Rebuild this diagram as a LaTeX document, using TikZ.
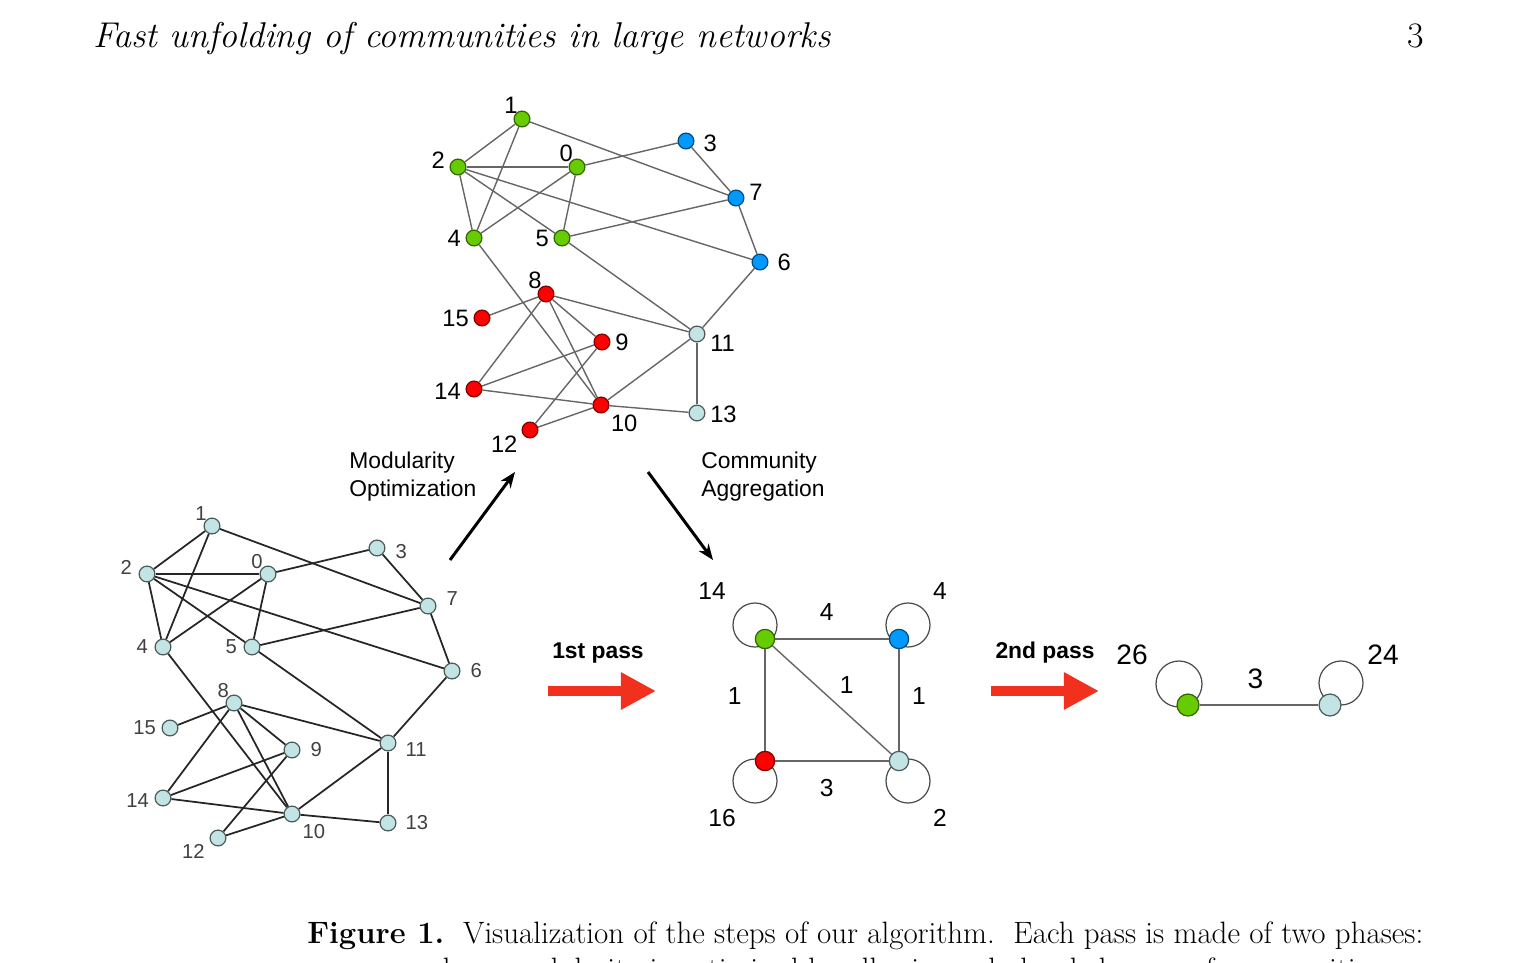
\documentclass[tikz,border=0pt]{standalone}
\usepackage{fontspec}
\newfontfamily\graphfont{Liberation Sans}
\usetikzlibrary{positioning, arrows.meta, backgrounds}

\definecolor{commgreen}{HTML}{66CC00}
\definecolor{commblue}{HTML}{0099FF}
\definecolor{commred}{HTML}{FF0000}
\definecolor{commcyan}{HTML}{C2E4E4}
\definecolor{passred}{HTML}{F2301E}

\begin{document}
\begin{tikzpicture}[
		x=0.02cm, y=-0.02cm,
		vertex/.style={circle, inner sep=0pt, minimum size=9pt, line width=0.7pt},
		grn/.style={vertex, fill=commgreen, draw=commgreen!50!black},
		blu/.style={vertex, fill=commblue, draw=commblue!50!black},
		rd/.style={vertex, fill=commred, draw=commred!50!black},
		cyn/.style={vertex, fill=commcyan, draw=commcyan!40!black},
		toplab/.style={font=\graphfont\fontsize{13.5}{13.5}\selectfont, inner sep=1pt},
		lowlab/.style={font=\graphfont\fontsize{11.5}{11.5}\selectfont, text=black!75, inner sep=1pt},
		snug/.style={label distance=-2.5pt},
		far/.style={label distance=4pt},
		weight/.style={font=\graphfont\fontsize{14}{14}\selectfont, inner sep=0pt},
		bigweight/.style={font=\graphfont\fontsize{16}{16}\selectfont, inner sep=0pt},
		phase/.style={font=\graphfont\fontsize{13}{16}\selectfont, align=left, anchor=west, inner sep=0pt},
		passlab/.style={font=\graphfont\bfseries\fontsize{13}{13}\selectfont},
		link/.style={draw=black!60, line width=0.8pt},
		lowlink/.style={draw=black!85, line width=1pt},
		loopline/.style={draw=black!70, line width=0.7pt},
		flowarrow/.style={-{Stealth[length=9pt, width=7pt]}, line width=1.7pt},
		passarrow/.style={-{Triangle[length=20pt, width=20pt]}, line width=6pt, passred}
		]
		\useasboundingbox (0,0) rectangle (1515,963);
		
		% --- page header and caption ---
		\node[anchor=base west, inner sep=0pt, font=\itshape\fontsize{20.4}{24}\selectfont] (header) at (93,48) {Fast unfolding of communities in large networks};
		\node[anchor=base east, inner sep=0pt, font=\fontsize{20.4}{24}\selectfont] (pageno) at (1424,48) {3};
		\node[anchor=base west, inner sep=0pt, font=\fontsize{17.6}{21}\selectfont] (cap1) at (307,943) {\textbf{Figure 1.}\ \ Visualization of the steps of our algorithm.\ \ Each pass is made of two phases:};
		\node[anchor=base west, inner sep=0pt, font=\fontsize{17.6}{21}\selectfont] (cap2) at (370,979) {one where modularity is optimized by allowing only local changes of communities;};
		
		% --- original network ---
		\begin{scope}[every label/.style={lowlab, label distance=2pt}, every node/.append style={minimum size=9.5pt}]
			\node[cyn, label={[snug]126:1}] (b1) at (212,526) {};
			\node[cyn, label={[yshift=3.5pt]180:2}] (b2) at (147,574) {};
			\node[cyn, label={[snug]122:0}] (b0) at (268,574) {};
			\node[cyn, label={[far, yshift=-2pt]0:3}] (b3) at (377,548) {};
			\node[cyn, label={[far, yshift=4pt]0:7}] (b7) at (428,606) {};
			\node[cyn, label=180:4] (b4) at (163,647) {};
			\node[cyn, label=180:5] (b5) at (252,647) {};
			\node[cyn, label={[far]0:6}] (b6) at (452,671) {};
			\node[cyn, label={[snug]120:8}] (b8) at (234,703) {};
			\node[cyn, label=180:15] (b15) at (170,728) {};
			\node[cyn, label={[far, yshift=-4pt]0:11}] (b11) at (388,743) {};
			\node[cyn, label={[far]0:9}] (b9) at (292,750) {};
			\node[cyn, label={[yshift=-1.5pt]180:14}] (b14) at (163,798) {};
			\node[cyn, label=-45:10] (b10) at (292,814) {};
			\node[cyn, label={[far]0:13}] (b13) at (388,823) {};
			\node[cyn, label=200:12] (b12) at (218,838) {};
		\end{scope}
		\foreach \a/\b in {1/2,1/4,1/7,2/0,2/4,2/5,2/6,0/4,0/5,0/3,3/7,7/5,7/6,6/11,4/10,5/11,8/15,8/11,8/14,8/9,8/10,9/14,9/12,14/10,10/12,10/11,10/13,11/13}
		\draw[lowlink] (b\a) -- (b\b);
		
		% --- after modularity optimization ---
		\begin{scope}[every label/.style={toplab, label distance=1.5pt}]
			\node[grn, label={[snug]124:1}] (t1) at (522,119) {};
			\node[grn, label={[yshift=4pt]180:2}] (t2) at (458,167) {};
			\node[grn, label={[snug]122:0}] (t0) at (577,167) {};
			\node[blu, label={[far, yshift=-1.5pt]0:3}] (t3) at (686,141) {};
			\node[blu, label={[yshift=3pt]0:7}] (t7) at (736,198) {};
			\node[grn, label=180:4] (t4) at (474,238) {};
			\node[grn, label=180:5] (t5) at (562,238) {};
			\node[blu, label={[far]0:6}] (t6) at (760,262) {};
			\node[rd, label={[snug]126:8}] (t8) at (546,294) {};
			\node[rd, label=180:15] (t15) at (482,318) {};
			\node[cyn, label={[yshift=-5.5pt]0:11}] (t11) at (697,334) {};
			\node[rd, label=0:9] (t9) at (602,342) {};
			\node[rd, label={[yshift=-1.5pt]180:14}] (t14) at (474,389) {};
			\node[rd, label=-45:10] (t10) at (601,405) {};
			\node[cyn, label={[yshift=-1pt]0:13}] (t13) at (697,413) {};
			\node[rd, label=200:12] (t12) at (530,430) {};
		\end{scope}
		\foreach \a/\b in {1/2,1/4,1/7,2/0,2/4,2/5,2/6,0/4,0/5,0/3,3/7,7/5,7/6,6/11,4/10,5/11,8/15,8/11,8/14,8/9,8/10,9/14,9/12,14/10,10/12,10/11,10/13,11/13}
		\draw[link] (t\a) -- (t\b);
		
		% phase arrows
		\coordinate (mo1) at (450,560);
		\coordinate (mo2) at (515,472);
		\coordinate (ca1) at (648,472);
		\coordinate (ca2) at (713,560);
		\draw[flowarrow] (mo1) -- (mo2);
		\draw[flowarrow] (ca1) -- (ca2);
		\node[phase] (modopt) at (349,477) {Modularity\\Optimization};
		\node[phase] (commagg) at (701,477) {Community\\Aggregation};
		
		% --- first pass result ---
		\node[grn, minimum size=11pt] (mg) at (765,639) {};
		\node[blu, minimum size=11pt] (mb) at (899,639) {};
		\node[rd, minimum size=11pt] (mr) at (765,761) {};
		\node[cyn, minimum size=11pt] (mc) at (899,761) {};
		\draw[link] (mg) -- node[weight, above=10pt, xshift=-3pt] {4} (mb);
		\draw[link] (mg) -- node[weight, left=13pt, yshift=2pt] {1} (mr);
		\draw[link] (mb) -- node[weight, right=7pt, yshift=2pt] {1} (mc);
		\draw[link] (mg) -- node[weight, above right=3pt, xshift=2pt, yshift=1pt] {1} (mc);
		\draw[link] (mr) -- node[weight, below=10pt, xshift=-3pt] {3} (mc);
		\begin{scope}[on background layer]
			\draw[loopline] ([shift={(-10,-14)}]mg.center) circle[radius=22];
			\draw[loopline] ([shift={(9,-14)}]mb.center) circle[radius=22];
			\draw[loopline] ([shift={(-10,20)}]mr.center) circle[radius=22];
			\draw[loopline] ([shift={(9,20)}]mc.center) circle[radius=22];
		\end{scope}
		\node[weight] (w14) at (712,591) {14};
		\node[weight] (w4) at (940,591) {4};
		\node[weight] (w16) at (722,818) {16};
		\node[weight] (w2) at (940,818) {2};
		
		\coordinate (p1s) at (548,691);
		\coordinate (p1e) at (656,691);
		\draw[passarrow] (p1s) -- (p1e);
		\node[passlab] (pass1) at (598,653) {1st pass};
		
		% --- second pass result ---
		\node[grn, minimum size=12.5pt] (rg) at (1188,705) {};
		\node[cyn, minimum size=12.5pt] (rc) at (1330,705) {};
		\draw[link] (rg) -- node[bigweight, above=9pt, xshift=-2pt] {3} (rc);
		\begin{scope}[on background layer]
			\draw[loopline] ([shift={(-9,-21)}]rg.center) circle[radius=23];
			\draw[loopline] ([shift={(11,-22)}]rc.center) circle[radius=22];
		\end{scope}
		\node[bigweight] (w26) at (1132,655) {26};
		\node[bigweight] (w24) at (1383,655) {24};
		
		\coordinate (p2s) at (991,691);
		\coordinate (p2e) at (1099,691);
		\draw[passarrow] (p2s) -- (p2e);
		\node[passlab] (pass2) at (1045,653) {2nd pass};
		
	\end{tikzpicture}
\end{document}
